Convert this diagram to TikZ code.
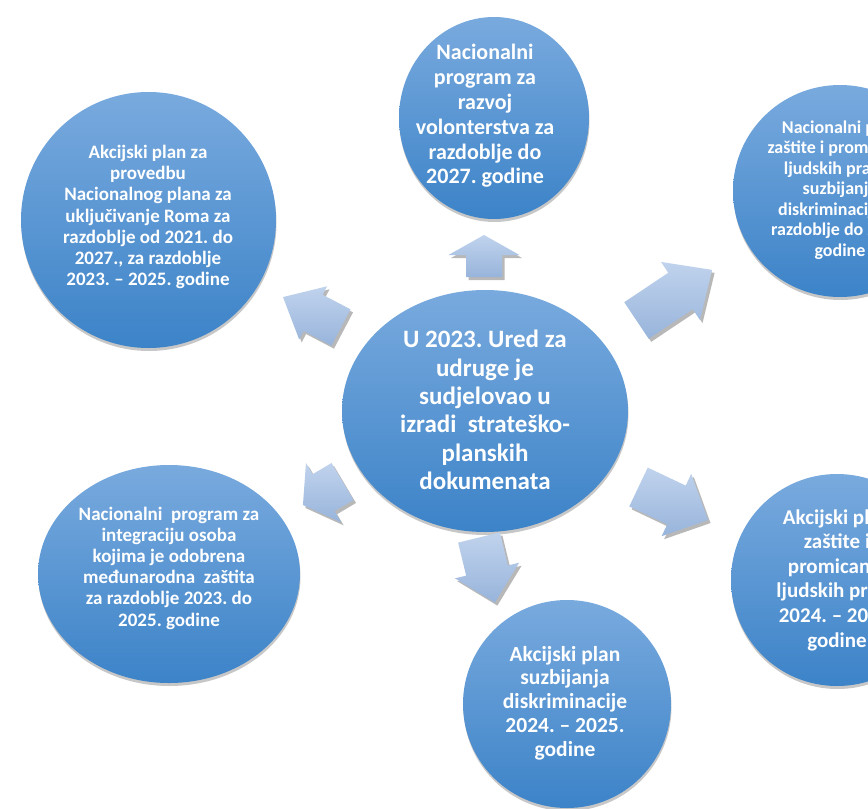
\documentclass[tikz,border=0pt]{standalone}
\usepackage{fontspec}
\setmainfont{Carlito}
\usetikzlibrary{shapes.geometric,shadows}
\frenchspacing
\definecolor{bubtop}{RGB}{121,170,222}
\definecolor{bubbot}{RGB}{60,131,200}
\definecolor{arrtop}{RGB}{192,211,237}
\definecolor{arrbot}{RGB}{152,180,219}
\tikzset{
  bub/.style={ellipse, inner sep=0pt, top color=bubtop, bottom color=bubbot,
    drop shadow={shadow xshift=0.5pt, shadow yshift=-3pt, opacity=0.22, fill=black}},
  bubtext/.style={text=white, align=center, inner sep=0pt},
  arr/.style={top color=arrtop, bottom color=arrbot,
    drop shadow={shadow xshift=2.5pt, shadow yshift=-3pt, opacity=0.28, fill=black}},
}
% name, tail x, tail y, angle, length, head length, shaft width, head width
\newcommand\blockarr[8]{%
  \begin{scope}[shift={(#2,#3)}, rotate=#4]
    \path[arr] (0,{#7/2}) -- ({#5-#6},{#7/2}) -- ({#5-#6},{#8/2}) -- (#5,0)
      -- ({#5-#6},{-#8/2}) -- ({#5-#6},{-#7/2}) -- (0,{-#7/2}) -- cycle;
    \coordinate (#1) at (#5,0);
  \end{scope}}
\begin{document}
\begin{tikzpicture}[x=1pt,y=-1pt]
\useasboundingbox (0,0) rectangle (868,809);
\fill[white] (0,0) rectangle (868,809);
\clip (0,0) rectangle (868,809);

% circles
\node[bub, minimum width=286, minimum height=242] (C) at (485,411) {};
\node[bub, minimum width=190, minimum height=202] (T) at (494,118) {};
\node[bub, minimum width=255, minimum height=256] (TL) at (148.5,220) {};
\node[bub, minimum width=262, minimum height=218] (BL) at (169,574) {};
\node[bub, minimum width=208, minimum height=208] (B) at (567,704) {};
\node[bub, minimum width=214, minimum height=212] (RT) at (840,191) {};
\node[bub, minimum width=212, minimum height=212] (RB) at (837,580) {};

% arrows
\blockarr{aT}{484}{277}{90}{42}{20}{36}{71}
\blockarr{aRT}{636.5}{320.5}{33.8}{91}{38}{44}{70}
\blockarr{aRB}{638.5}{487}{-25.4}{77}{35}{43}{69}
\blockarr{aB}{479}{537.5}{-76.3}{67}{33}{43}{66}
\blockarr{aTL}{341}{327.5}{152.3}{65.5}{34}{41}{60}
\blockarr{aBL}{342.5}{481.5}{210.7}{46}{24}{43}{69}

% texts
\node[bubtext, font={\fontsize{25}{28.4}\selectfont\bfseries}] (Ct) at (485,410)
  {U 2023. Ured za\\udruge je\\sudjelovao u\\izradi~ strateško-\\planskih\\dokumenata};
\node[bubtext, font={\fontsize{22}{24.8}\selectfont\bfseries}] (Tt) at (485,116)
  {Nacionalni\\program za\\razvoj\\volonterstva za\\razdoblje do\\2027. godine};
\node[bubtext, font={\fontsize{19}{21.2}\selectfont\bfseries}] (TLt) at (148,217)
  {Akcijski plan za\\provedbu\\Nacionalnog plana za\\uključivanje Roma za\\razdoblje od 2021. do\\2027., za razdoblje\\2023. – 2025. godine};
\node[bubtext, font={\fontsize{19}{21.2}\selectfont\bfseries}] (BLt) at (169,568)
  {Nacionalni~ program za\\integraciju osoba\\kojima je odobrena\\međunarodna~ zaštita\\za razdoblje 2023. do\\2025. godine};
\node[bubtext, font={\fontsize{21.5}{23.8}\selectfont\bfseries}] (Bt) at (565,703)
  {Akcijski plan\\suzbijanja\\diskriminacije\\2024. – 2025.\\godine};
\node[bubtext, font={\fontsize{18}{20.5}\selectfont\bfseries}] (RTt) at (840,190)
  {Nacionalni plan\\zaštite i promicanja\\ljudskih prava i\\suzbijanja\\diskriminacije za\\razdoblje do 2027.\\godine};
\node[bubtext, font={\fontsize{21}{24.6}\selectfont\bfseries}] (RBt) at (837,580)
  {Akcijski plan\\zaštite i\\promicanja\\ljudskih prava\\2024. – 2025.\\godine};
\end{tikzpicture}
\end{document}
